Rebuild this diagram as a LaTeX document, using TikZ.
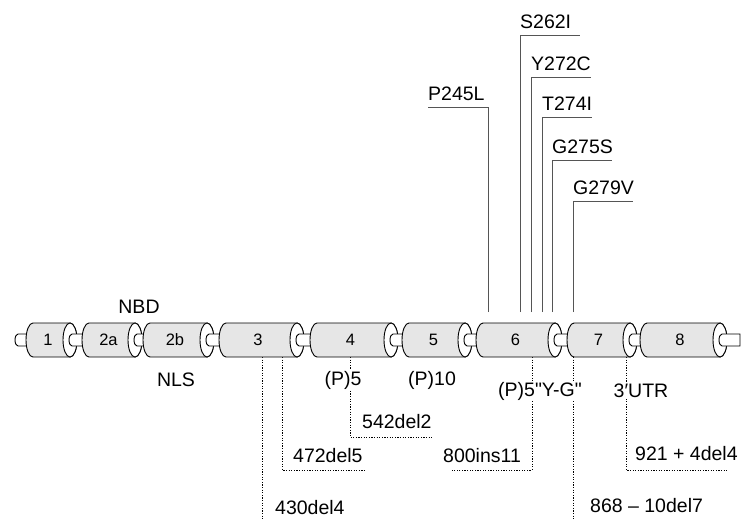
\documentclass[tikz,border=0pt]{standalone}
\usepackage{fontspec}
\setmainfont{Liberation Sans}[Ligatures=TeXOff]
\usetikzlibrary{calc}
\definecolor{cylfill}{RGB}{230,230,230}
\definecolor{leadgray}{RGB}{85,85,85}

\tikzset{
  cylbody/.style={draw=black, line width=0.9pt, fill=cylfill},
  cylend/.style={draw=black, line width=0.9pt, fill=white},
  rod/.style={draw=black, line width=0.9pt, fill=white},
  exonlbl/.style={font=\fontsize{16.5}{16.5}\selectfont, inner sep=0pt},
  mutlbl/.style={font=\fontsize{19.5}{19.5}\selectfont, inner sep=0pt, anchor=base west},
  regionlbl/.style={font=\fontsize{19.5}{19.5}\selectfont, fill=white, inner sep=1pt},
  toplead/.style={draw=leadgray, line width=1pt},
  botlead/.style={draw=black, line width=0.8pt, dash pattern=on 1.2pt off 1.4pt},
}

% exon cylinder: left x, right-end x, name, label
\newcommand{\exon}[4]{%
  \path[cylbody] (#1+7,197) -- (#2,197)
    arc[start angle=90, end angle=-90, x radius=7, y radius=17]
    -- (#1+7,163)
    arc[start angle=270, end angle=90, x radius=7, y radius=17] -- cycle;
  \path[cylend] (#2,180) ellipse[x radius=7, y radius=17];
  \node[exonlbl] (#3) at ({(#1+#2)/2},180) {#4};
}
% connecting rod: start x, end x
\newcommand{\rodseg}[2]{%
  \path[rod] (#2,186) -- (#1,186)
    arc[start angle=90, end angle=270, x radius=3, y radius=6] -- (#2,174);
}

\begin{document}
\begin{tikzpicture}[x=1pt,y=1pt]
\useasboundingbox (0,0) rectangle (741,520);

% --- Mutations above the gene ---
\foreach \vx/\hy/\hx/\id/\txt in {
  488/412/428/p245l/P245L,
  520/484/580/s262i/S262I,
  531/442/591/y272c/Y272C,
  542/402/592/t274i/T274I,
  552/359/612/g275s/G275S,
  573/318/633/g279v/G279V
}{
  \coordinate (\id-foot) at (\vx,208);
  \coordinate (\id-knee) at (\vx,\hy);
  \coordinate (\id-end) at (\hx,\hy);
  \draw[toplead] (\id-foot) -- (\id-knee) -- (\id-end);
  \node[mutlbl] (\id) at ({min(\vx,\hx)},\hy+7) {\txt};
}

% --- Mutations below the gene ---
\foreach \vx/\ky/\hx/\tx/\ty/\id/\txt in {
  262/0/262/275/6/d430/430del4,
  282/50/365/293/58/d472/472del5,
  350/83/433/362/92/d542/542del2,
  532/50/452/443/58/i800/800ins11,
  573/0/573/590/8/d868/868 – 10del7,
  626/50/728/635/60/d921/921 + 4del4
}{
  \coordinate (\id-foot) at (\vx,163);
  \coordinate (\id-knee) at (\vx,\ky);
  \coordinate (\id-end) at (\hx,\ky);
  \draw[botlead] (\id-foot) -- (\id-knee) -- (\id-end);
  \node[mutlbl] (\id) at (\tx,\ty) {\txt};
}

% --- Gene: exons and rods ---
\rodseg{18}{33}
\exon{26}{70}{e1}{1}
\rodseg{72}{89}
\exon{82}{135}{e2a}{2a}
\rodseg{137}{150}
\exon{143}{207}{e2b}{2b}
\rodseg{209}{226}
\exon{219}{297}{e3}{3}
\rodseg{299}{317}
\exon{310}{391}{e4}{4}
\rodseg{393}{409}
\exon{402}{465}{e5}{5}
\rodseg{467}{483}
\exon{476}{555}{e6}{6}
\rodseg{557}{574}
\exon{567}{630}{e7}{7}
\rodseg{632}{647}
\exon{640}{720}{e8}{8}
\path[rod] (740,186) -- (722,186)
  arc[start angle=90, end angle=270, x radius=3, y radius=6] -- (740,174) -- cycle;

% --- Region labels ---
\node[regionlbl] (nbd) at (139,213) {NBD};
\node[regionlbl] (nls) at (176,140) {NLS};
\node[regionlbl] (p5) at (343,140) {(P)5};
\node[regionlbl] (p10) at (432,140) {(P)10};
\node[regionlbl] (p5yg) at (540,129) {(P)5"Y-G"};
\node[regionlbl] (utr) at (641,129) {3′UTR};

\end{tikzpicture}
\end{document}
